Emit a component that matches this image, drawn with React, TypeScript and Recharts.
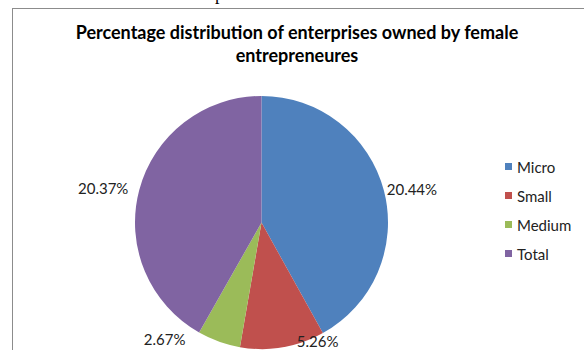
import { PieChart, Pie, Cell, Legend } from 'recharts';

const categories = ['Micro', 'Small', 'Medium', 'Total'];
const shares = [20.44, 5.26, 2.67, 20.37];
const labels = ['20.44%', '5.26%', '2.67%', '20.37%'];
const COLORS = ['#4F81BD', '#C0504D', '#9BBB59', '#8064A2'];

// bottom labels are pulled up/aside like Excel does when they'd fall off the plot
const LABEL_NUDGE: [number, number][] = [[-4, 0], [13, -13], [-31, -9], [-4, 0]];

const FONT = 'Lato, "Open Sans", sans-serif';
const RAD = Math.PI / 180;

const data = categories.map((name, i) => ({ name, value: shares[i], label: labels[i] }));

function renderLabel(p: any) {
  const r = p.outerRadius + 7;
  const x = p.cx + r * Math.cos(-p.midAngle * RAD) + LABEL_NUDGE[p.index][0];
  const y = p.cy + r * Math.sin(-p.midAngle * RAD) + LABEL_NUDGE[p.index][1];
  return (
    <text x={x} y={y} fill="#222" fontSize={15} fontFamily={FONT}
          textAnchor={x > p.cx ? 'start' : 'end'} dominantBaseline="central">
      {p.payload.label}
    </text>
  );
}

function LegendBox({ payload }: any) {
  const items = [...(payload ?? [])].sort((a: any, b: any) => categories.indexOf(a.value) - categories.indexOf(b.value));
  return (
    <div>
      {items.map((e: any) => (
        <div key={e.value} style={{ display: 'flex', alignItems: 'center', height: 29, fontFamily: FONT, fontSize: 15, color: '#222' }}>
          <span style={{ width: 7, height: 7, background: e.color, marginRight: 5, display: 'inline-block' }} />
          {e.value}
        </div>
      ))}
    </div>
  );
}

export default function App() {
  return (
    <div style={{ position: 'absolute', left: 0, top: 0, width: 584, height: 350, overflow: 'hidden', background: '#fff' }}>
      <div style={{ position: 'absolute', left: 215, top: -16, fontFamily: '"Liberation Serif", serif', fontSize: 18, color: '#000' }}>
        p
      </div>
      <div style={{ position: 'absolute', left: 12, top: 8, width: 580, height: 360, border: '1px solid #8c8c8c', boxSizing: 'border-box' }} />
      <div style={{ position: 'absolute', left: 12, width: 570, top: 21, textAlign: 'center', fontFamily: FONT, fontWeight: 700, fontSize: 18, lineHeight: '23px', color: '#000' }}>
        Percentage distribution of enterprises owned by female<br />entrepreneures
      </div>
      <PieChart width={584} height={350} margin={{ top: 0, right: 0, bottom: 0, left: 0 }}
                style={{ position: 'absolute', left: 0, top: 0 }}>
        <Pie data={data} dataKey="value" nameKey="name" cx={261.5} cy={222.5} outerRadius={126.5}
             startAngle={90} endAngle={-270} stroke="none" label={renderLabel} labelLine={false}
             isAnimationActive={false}>
          {data.map((d, i) => <Cell key={d.name} fill={COLORS[i]} />)}
        </Pie>
        <Legend layout="vertical" content={<LegendBox />}
                wrapperStyle={{ position: 'absolute', left: 505, top: 152, width: 80 }} />
      </PieChart>
    </div>
  );
}
